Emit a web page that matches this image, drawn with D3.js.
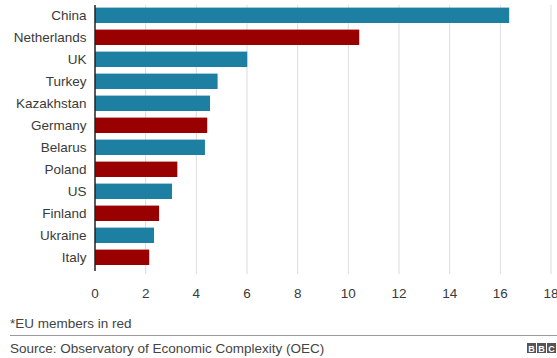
<!DOCTYPE html>
<html><head><meta charset="utf-8">
<script src="https://cdn.jsdelivr.net/npm/d3@7"></script>
<style>
html,body{margin:0;padding:0;background:#fff;}
svg{display:block;font-family:"Liberation Sans",Arial,Helvetica,sans-serif;}
</style></head>
<body>
<svg id="c" width="557" height="358"></svg>
<script>
const countries = ["China","Netherlands","UK","Turkey","Kazakhstan","Germany","Belarus","Poland","US","Finland","Ukraine","Italy"];
const values = [16.35,10.43,6.01,4.84,4.54,4.43,4.34,3.25,3.04,2.53,2.33,2.14];
const euMember = [false,true,false,false,false,true,false,true,false,true,false,true];
const xTicks = [0,2,4,6,8,10,12,14,16,18];
const footnote = "*EU members in red";
const source = "Source: Observatory of Economic Complexity (OEC)";

const svg = d3.select("#c");
const x = d3.scaleLinear().domain([0,18]).range([95,551]);
const y = d3.scaleBand().domain(countries).range([1,271.6]).paddingInner(0.3).paddingOuter(0.3);

// gridlines
svg.append("g").selectAll("line").data(xTicks.slice(1)).join("line")
  .attr("x1",d=>x(d)).attr("x2",d=>x(d)).attr("y1",5).attr("y2",274)
  .attr("stroke","#dcdcdc").attr("stroke-width",1);

// bars
svg.append("g").selectAll("rect").data(countries).join("rect")
  .attr("x",x(0)).attr("y",d=>y(d))
  .attr("width",(d,i)=>x(values[i])-x(0))
  .attr("height",y.bandwidth())
  .attr("fill",(d,i)=>euMember[i]?"#990000":"#1d80a2");

// baseline axis
svg.append("line").attr("x1",x(0)).attr("x2",x(0)).attr("y1",5).attr("y2",271)
  .attr("stroke","#222").attr("stroke-width",1.5);

// category labels
svg.append("g").selectAll("text").data(countries).join("text")
  .attr("x",86.5).attr("y",d=>y(d)+y.bandwidth()/2)
  .attr("dy","0.35em").attr("text-anchor","end")
  .attr("font-size",13.5).attr("fill","#3a3a3a").text(d=>d);

// x tick labels
svg.append("g").selectAll("text").data(xTicks).join("text")
  .attr("x",d=>x(d)).attr("y",293).attr("dy","0.35em")
  .attr("text-anchor","middle").attr("font-size",13.5).attr("fill","#3a3a3a").text(d=>d);

// footnote
svg.append("text").attr("x",10).attr("y",328).attr("font-size",13.5).attr("fill","#444").text(footnote);
svg.append("line").attr("x1",10).attr("x2",557).attr("y1",335.5).attr("y2",335.5).attr("stroke","#999").attr("stroke-width",1);
svg.append("text").attr("x",10).attr("y",353).attr("font-size",13.5).attr("fill","#444").text(source);

// BBC logo
const logo = svg.append("g");
["B","B","C"].forEach((l,i)=>{
  logo.append("rect").attr("x",527+i*10).attr("y",343).attr("width",9).attr("height",10).attr("fill","#555");
  logo.append("text").attr("x",531.5+i*10).attr("y",351.5).attr("text-anchor","middle")
    .attr("font-size",9).attr("font-weight","bold").attr("fill","#fff").text(l);
});
</script>
</body></html>
